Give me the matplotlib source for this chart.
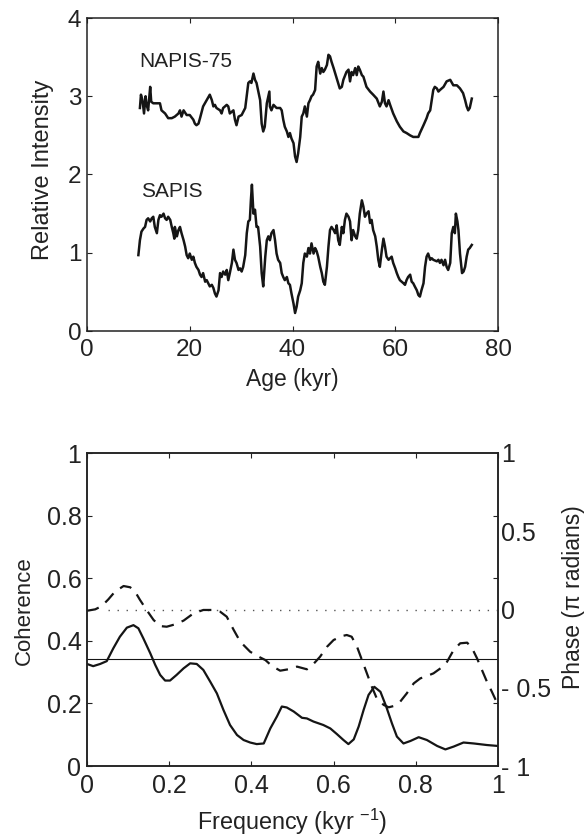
import matplotlib
matplotlib.use("Agg")
import matplotlib.pyplot as plt
from matplotlib.ticker import FixedLocator, FixedFormatter, NullFormatter

plt.rcParams['font.family'] = ['Liberation Sans', 'DejaVu Sans']
plt.rcParams['mathtext.fontset'] = 'custom'
plt.rcParams['mathtext.rm'] = 'Liberation Sans'
plt.rcParams['mathtext.default'] = 'regular'

# ---------------- data: top panel (paleointensity stacks) ----------------
napis_age = [10.3, 10.5, 10.8, 11.1, 11.4, 11.6, 11.9, 12.3, 12.5, 12.9, 13.6, 14.2, 14.5, 15.2,
             15.8, 16.5, 17.1, 17.8, 18.1, 18.4, 18.8, 19.4, 20.0, 20.7, 21.0, 21.3, 21.7, 22.0,
             22.6, 23.3, 23.9, 24.3, 24.6, 24.9, 25.2, 25.9, 26.2, 26.5, 27.2, 27.5, 27.8, 28.5,
             28.8, 29.1, 29.5, 30.1, 30.8, 31.4, 31.7, 32.0, 32.4, 32.7, 33.0, 33.7, 34.0, 34.3,
             34.6, 35.0, 35.3, 35.5, 35.6, 35.9, 36.3, 36.9, 37.6, 37.9, 38.2, 38.5, 38.9, 39.2,
             39.5, 39.8, 40.2, 40.5, 40.8, 41.1, 41.5, 41.8, 42.1, 42.4, 42.8, 43.1, 43.4, 43.7,
             44.0, 44.4, 44.7, 45.0, 45.4, 45.7, 46.0, 46.3, 46.7, 47.0, 47.3, 47.6, 48.0, 48.6,
             49.2, 49.6, 49.9, 50.5, 50.9, 51.2, 51.5, 51.8, 52.2, 52.5, 52.8, 53.1, 53.5, 53.8,
             54.4, 55.1, 55.7, 56.4, 57.0, 57.4, 57.7, 58.0, 58.3, 58.7, 59.0, 59.6, 60.3, 60.9,
             61.6, 62.2, 62.9, 63.5, 64.5, 64.8, 65.5, 66.1, 66.4, 66.8, 67.4, 67.7, 68.1, 68.4,
             68.7, 69.4, 70.0, 70.7, 71.3, 72.0, 72.6, 73.2, 73.6, 73.9, 74.2, 74.5, 74.9]
napis_val = [2.85, 3.02, 2.95, 2.78, 3.00, 2.89, 2.82, 3.12, 2.93, 2.91, 2.91, 2.91, 2.82, 2.78,
             2.72, 2.72, 2.74, 2.78, 2.82, 2.74, 2.82, 2.76, 2.76, 2.70, 2.65, 2.63, 2.65, 2.72,
             2.87, 2.95, 3.02, 2.95, 2.87, 2.89, 2.85, 2.82, 2.78, 2.85, 2.89, 2.87, 2.78, 2.82,
             2.70, 2.63, 2.74, 2.76, 2.85, 3.17, 3.19, 3.17, 3.29, 3.21, 3.17, 2.95, 2.65, 2.55,
             2.61, 2.91, 3.00, 3.06, 2.87, 2.82, 2.89, 2.85, 2.85, 2.82, 2.70, 2.61, 2.55, 2.48,
             2.53, 2.46, 2.40, 2.23, 2.16, 2.27, 2.48, 2.74, 2.78, 2.87, 2.74, 2.91, 2.95, 3.00,
             3.02, 3.08, 3.38, 3.44, 3.29, 3.36, 3.31, 3.34, 3.40, 3.53, 3.51, 3.44, 3.36, 3.23,
             3.10, 3.12, 3.21, 3.31, 3.34, 3.19, 3.31, 3.27, 3.36, 3.27, 3.38, 3.34, 3.27, 3.25,
             3.12, 3.06, 3.02, 2.97, 2.87, 2.93, 3.06, 2.91, 2.87, 2.95, 2.89, 2.78, 2.68, 2.61,
             2.55, 2.53, 2.50, 2.48, 2.48, 2.53, 2.63, 2.72, 2.78, 2.82, 3.08, 3.12, 3.10, 3.06,
             3.08, 3.12, 3.19, 3.21, 3.14, 3.14, 3.10, 3.04, 2.95, 2.87, 2.82, 2.85, 2.97]

sapis_age = [10.0, 10.3, 10.6, 11.0, 11.3, 11.6, 11.9, 12.3, 12.6, 12.9, 13.2, 13.6, 13.9, 14.2,
             14.5, 14.9, 15.2, 15.5, 15.8, 16.2, 16.5, 16.8, 17.0, 17.1, 17.5, 17.8, 18.1, 18.4,
             18.8, 19.1, 19.4, 19.7, 20.0, 20.4, 20.7, 21.0, 21.3, 21.7, 22.0, 22.3, 22.6, 23.0,
             23.3, 23.6, 23.9, 24.3, 24.6, 24.9, 25.2, 25.6, 25.9, 26.2, 26.5, 26.9, 27.2, 27.5,
             27.8, 28.2, 28.5, 28.8, 29.1, 29.5, 29.8, 30.1, 30.4, 30.8, 31.1, 31.4, 31.7, 31.9,
             32.1, 32.4, 32.7, 33.0, 33.3, 33.7, 34.0, 34.3, 34.7, 35.0, 35.3, 35.6, 35.9, 36.3,
             36.6, 36.9, 37.2, 37.6, 37.9, 38.2, 38.5, 38.9, 39.2, 39.5, 39.8, 40.2, 40.5, 40.8,
             41.1, 41.5, 41.8, 42.1, 42.4, 42.8, 43.1, 43.4, 43.7, 44.1, 44.4, 44.7, 45.0, 45.4,
             45.7, 46.0, 46.3, 46.7, 47.0, 47.3, 47.6, 48.0, 48.3, 48.6, 48.9, 49.2, 49.6, 49.9,
             50.2, 50.5, 50.9, 51.2, 51.5, 51.8, 52.2, 52.5, 52.8, 53.1, 53.5, 53.8, 54.1, 54.4,
             54.8, 55.1, 55.4, 55.7, 56.1, 56.4, 56.7, 57.0, 57.4, 57.7, 58.0, 58.3, 58.7, 59.0,
             59.3, 59.6, 60.0, 60.3, 60.6, 60.9, 61.6, 61.9, 62.2, 62.5, 62.9, 63.2, 63.5, 63.8,
             64.2, 64.5, 64.8, 65.1, 65.5, 65.8, 66.1, 66.4, 66.8, 67.1, 67.4, 68.1, 68.4, 68.7,
             69.0, 69.4, 69.7, 70.0, 70.3, 70.7, 71.0, 71.3, 71.6, 71.8, 72.1, 72.3, 72.6, 73.0,
             73.3, 73.6, 73.9, 74.2, 74.5, 74.9]
sapis_val = [0.97, 1.16, 1.27, 1.31, 1.33, 1.42, 1.44, 1.40, 1.44, 1.46, 1.33, 1.25, 1.42, 1.48,
             1.46, 1.50, 1.44, 1.42, 1.46, 1.42, 1.33, 1.25, 1.18, 1.33, 1.21, 1.29, 1.33, 1.25,
             1.16, 1.08, 0.97, 0.93, 0.99, 0.91, 0.95, 0.87, 0.82, 0.78, 0.72, 0.69, 0.74, 0.63,
             0.65, 0.61, 0.57, 0.59, 0.55, 0.48, 0.44, 0.52, 0.74, 0.69, 0.76, 0.72, 0.78, 0.65,
             0.74, 0.87, 1.04, 0.91, 0.87, 0.78, 0.80, 0.76, 0.82, 0.97, 1.25, 1.40, 1.42, 1.67,
             1.87, 1.50, 1.55, 1.33, 1.33, 1.08, 0.74, 0.57, 0.95, 1.16, 1.21, 1.16, 1.25, 1.29,
             1.16, 0.99, 0.91, 0.87, 0.74, 0.69, 0.65, 0.69, 0.61, 0.59, 0.48, 0.35, 0.23, 0.31,
             0.44, 0.52, 0.61, 0.87, 0.99, 0.95, 1.06, 0.99, 1.12, 0.99, 1.06, 1.02, 0.95, 0.82,
             0.74, 0.63, 0.59, 0.82, 1.08, 1.29, 1.33, 1.29, 1.25, 1.35, 1.16, 1.10, 1.33, 1.25,
             1.42, 1.50, 1.46, 1.40, 1.16, 1.29, 1.21, 1.18, 1.29, 1.50, 1.67, 1.59, 1.46, 1.50,
             1.53, 1.38, 1.42, 1.29, 1.21, 1.08, 0.91, 0.82, 1.04, 1.18, 1.08, 0.95, 0.91, 0.93,
             0.95, 0.87, 0.80, 0.74, 0.69, 0.65, 0.61, 0.59, 0.65, 0.69, 0.72, 0.63, 0.61, 0.57,
             0.52, 0.46, 0.44, 0.52, 0.61, 0.82, 0.95, 0.99, 0.91, 0.93, 0.91, 0.89, 0.91, 0.87,
             0.91, 0.84, 0.91, 0.82, 0.78, 0.87, 1.25, 1.33, 1.25, 1.50, 1.40, 1.29, 0.99, 0.74,
             0.76, 0.82, 0.95, 1.04, 1.06, 1.10]

# ---------------- data: bottom panel (coherence / phase) ----------------
coh_freq = [0.0, 0.015, 0.032, 0.048, 0.064, 0.080, 0.097, 0.113, 0.125, 0.137, 0.154, 0.166,
            0.178, 0.190, 0.202, 0.218, 0.235, 0.251, 0.267, 0.283, 0.300, 0.316, 0.332, 0.348,
            0.365, 0.381, 0.397, 0.413, 0.430, 0.446, 0.462, 0.474, 0.486, 0.503, 0.523, 0.535,
            0.551, 0.575, 0.592, 0.608, 0.624, 0.636, 0.649, 0.661, 0.673, 0.685, 0.699, 0.714,
            0.728, 0.742, 0.754, 0.770, 0.787, 0.807, 0.827, 0.852, 0.872, 0.892, 0.916, 0.941,
            0.973, 1.0]
coherence = [0.326, 0.319, 0.326, 0.335, 0.376, 0.413, 0.442, 0.450, 0.440, 0.408, 0.360, 0.323,
             0.291, 0.273, 0.273, 0.291, 0.312, 0.328, 0.326, 0.307, 0.269, 0.232, 0.179, 0.131,
             0.099, 0.083, 0.075, 0.070, 0.072, 0.120, 0.158, 0.190, 0.187, 0.174, 0.154, 0.152,
             0.142, 0.131, 0.120, 0.102, 0.083, 0.070, 0.085, 0.126, 0.179, 0.227, 0.253, 0.237,
             0.190, 0.136, 0.094, 0.072, 0.080, 0.092, 0.083, 0.064, 0.053, 0.062, 0.075, 0.072,
             0.067, 0.064]

phase_freq = [0.0, 0.020, 0.036, 0.052, 0.068, 0.089, 0.105, 0.117, 0.129, 0.145, 0.162, 0.178,
              0.194, 0.214, 0.235, 0.259, 0.283, 0.304, 0.324, 0.340, 0.357, 0.373, 0.397, 0.421,
              0.434, 0.450, 0.470, 0.490, 0.511, 0.535, 0.551, 0.567, 0.584, 0.600, 0.620, 0.632,
              0.644, 0.657, 0.669, 0.681, 0.693, 0.705, 0.722, 0.734, 0.746, 0.762, 0.778, 0.795,
              0.811, 0.827, 0.843, 0.860, 0.876, 0.892, 0.908, 0.925, 0.937, 0.949, 0.961, 0.973,
              0.985, 1.0]
phase = [-0.008, 0.001, 0.022, 0.065, 0.114, 0.150, 0.142, 0.114, 0.061, -0.003, -0.067, -0.106,
         -0.110, -0.095, -0.071, -0.025, -0.003, -0.003, -0.014, -0.046, -0.131, -0.206, -0.270,
         -0.306, -0.323, -0.361, -0.391, -0.382, -0.365, -0.382, -0.348, -0.302, -0.238, -0.195,
         -0.170, -0.163, -0.174, -0.238, -0.323, -0.408, -0.493, -0.568, -0.610, -0.625, -0.617,
         -0.589, -0.536, -0.472, -0.440, -0.425, -0.408, -0.376, -0.334, -0.259, -0.216, -0.212,
         -0.248, -0.312, -0.387, -0.461, -0.525, -0.610]

significance_level = 0.342
zero_phase = 0.0

age_ticks = [0, 20, 40, 60, 80]
intensity_ticks = [0, 1, 2, 3, 4]
freq_ticks = [0, 0.2, 0.4, 0.6, 0.8, 1.0]
freq_ticklabels = ['0', '0.2', '0.4', '0.6', '0.8', '1']
coh_ticks = [0, 0.2, 0.4, 0.6, 0.8, 1.0]
coh_ticklabels = ['0', '0.2', '0.4', '0.6', '0.8', '1']
phase_label_pos = [-1, -0.5, 0, 0.5, 1]
phase_ticklabels = ['- 1', '- 0.5', '0', '0.5', '1']

LINE = '#151515'

fig = plt.figure(figsize=(5.87, 8.38), dpi=100)

# ---------------- top panel ----------------
ax1 = fig.add_axes([87/587, 1-331/838, 411/587, 313/838])
ax1.plot(napis_age, napis_val, color=LINE, lw=1.8, solid_joinstyle='round')
ax1.plot(sapis_age, sapis_val, color=LINE, lw=1.8, solid_joinstyle='round')
ax1.set_xlim(0, 80)
ax1.set_ylim(0, 4)
ax1.set_xticks(age_ticks)
ax1.set_yticks(intensity_ticks)
ax1.tick_params(direction='in', length=3.5, width=0.8, top=True, right=True,
                labelsize=17.5, colors='#222222', pad=6)
ax1.tick_params(axis='y', pad=4)
for s in ax1.spines.values():
    s.set_linewidth(1.1)
    s.set_color('#222222')
ax1.text(10.2, 3.378, 'NAPIS-75', fontsize=15, color='#222222', va='baseline', ha='left')
ax1.text(10.6, 1.716, 'SAPIS', fontsize=15, color='#222222', va='baseline', ha='left')
ax1.text(0.5, -0.176, 'Age (kyr)', transform=ax1.transAxes, ha='center', va='baseline',
         fontsize=16.5, color='#222222')
ax1.text(-0.107, 0.515, 'Relative Intensity', transform=ax1.transAxes, rotation=90,
         ha='center', va='center', fontsize=17, color='#222222')

# ---------------- bottom panel ----------------
ax2 = fig.add_axes([87/587, 1-766/838, 411/587, 313/838])
ax2.set_xlim(0, 1)
ax2.set_ylim(0, 1)
ax2.axhline(significance_level, color=LINE, lw=0.8)
ax2.plot(coh_freq, coherence, color=LINE, lw=1.6)
ax2.set_xticks(freq_ticks)
ax2.set_xticklabels(freq_ticklabels)
ax2.set_yticks(coh_ticks)
ax2.set_yticklabels(coh_ticklabels)
ax2.tick_params(direction='in', length=3.5, width=0.8, top=True, right=False,
                labelsize=18, colors='#222222', pad=6)
ax2.tick_params(axis='y', pad=4)
for s in ax2.spines.values():
    s.set_linewidth(1.1)
    s.set_color('#222222')

ax3 = ax2.twinx()
ax3.set_ylim(-1, 1)
ax3.axhline(zero_phase, xmin=0.05, color='#555555', lw=1.0, ls=(0, (1, 5.5)))
ax3.plot(phase_freq, phase, color=LINE, lw=1.6, ls=(0, (5.5, 3.8)))
ax3.yaxis.set_major_locator(FixedLocator(phase_label_pos))
ax3.yaxis.set_major_formatter(FixedFormatter(phase_ticklabels))
ax3.yaxis.set_minor_locator(FixedLocator([-1, -0.6, -0.2, 0.2, 0.6, 1]))
ax3.yaxis.set_minor_formatter(NullFormatter())
ax3.tick_params(axis='y', which='major', length=0, labelsize=18, colors='#222222', pad=2)
ax3.tick_params(axis='y', which='minor', direction='in', length=3.5, width=0.8, colors='#222222')
for s in ax3.spines.values():
    s.set_linewidth(1.1)
    s.set_color('#222222')

ax2.text(0.5, -0.2045, 'Frequency (kyr $^{-1}$)', transform=ax2.transAxes, ha='center',
         va='baseline', fontsize=16.8, color='#222222')
ax2.text(-0.152, 0.495, 'Coherence', transform=ax2.transAxes, rotation=90,
         ha='center', va='center', fontsize=16, color='#222222')
ax2.text(1.184, 0.541, 'Phase (π radians)', transform=ax2.transAxes, rotation=90,
         ha='center', va='center', fontsize=16.5, color='#222222')

fig.savefig('out.png', dpi=100)
